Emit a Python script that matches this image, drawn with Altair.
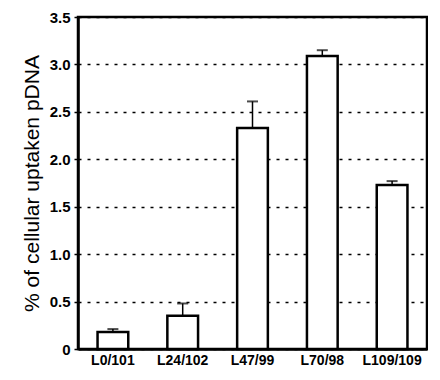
import altair as alt
import pandas as pd

categories = ["L0/101", "L24/102", "L47/99", "L70/98", "L109/109"]
values = [0.18, 0.35, 2.33, 3.09, 1.73]
errors = [0.03, 0.13, 0.28, 0.06, 0.04]

df = pd.DataFrame({"cat": categories, "val": values, "err": errors})
df["top"] = df["val"] + df["err"]

FONT = "Liberation Sans"

x = alt.X("cat:N", sort=categories,
          scale=alt.Scale(paddingInner=0.56, paddingOuter=0.28),
          axis=alt.Axis(title=None, labelAngle=0, labelFont=FONT, labelFontSize=14,
                        labelFontWeight="bold", labelColor="black", ticks=False,
                        domainColor="black", domainWidth=2.5, labelPadding=4))
y_scale = alt.Scale(domain=[0, 3.5], nice=False)

bars = alt.Chart(df).mark_bar(fill="white", stroke="black", strokeWidth=2.5).encode(
    x=x,
    y=alt.Y("val:Q", scale=y_scale,
            axis=alt.Axis(title="% of cellular uptaken pDNA", values=[0, 0.5, 1, 1.5, 2, 2.5, 3, 3.5],
                          labelExpr="datum.value == 0 ? '0' : format(datum.value, '.1f')",
                          labelFont=FONT, labelFontSize=15, labelFontWeight="bold", labelColor="black",
                          titleFont=FONT, titleFontSize=21, titleFontWeight="normal", titleColor="black",
                          titlePadding=7, grid=True, gridColor="black", gridDash=[3, 6], gridWidth=1.5,
                          tickColor="black", tickSize=4, tickWidth=1.5, domainColor="black", domainWidth=2.5,
                          labelPadding=4))
)

rules = alt.Chart(df).mark_rule(color="black", strokeWidth=1.5).encode(
    x=alt.X("cat:N", sort=categories),
    y=alt.Y("val:Q", scale=y_scale),
    y2="top:Q",
)

caps = alt.Chart(df).mark_tick(color="black", thickness=2, size=11, orient="horizontal").encode(
    x=alt.X("cat:N", sort=categories),
    y=alt.Y("top:Q", scale=y_scale),
)

chart = (bars + rules + caps).properties(
    width=349, height=332,
    background="white",
    padding={"left": 70, "top": 9, "right": 1, "bottom": 19},
    autosize=alt.AutoSizeParams(type="none"),
).configure_view(stroke="black", strokeWidth=2.5)

chart.save("out.html", embed_options={"renderer": "svg", "actions": False})
